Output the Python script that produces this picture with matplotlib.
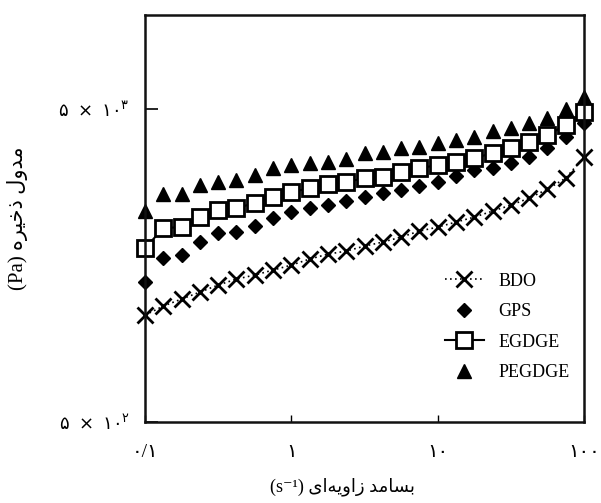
import matplotlib
matplotlib.use("Agg")
import matplotlib.pyplot as plt
from matplotlib.ticker import FixedLocator, FixedFormatter, NullLocator

plt.rcParams["font.family"] = ["Liberation Serif", "DejaVu Sans"]
plt.rcParams["mathtext.fontset"] = "custom"
plt.rcParams["mathtext.rm"] = "DejaVu Sans"

# angular frequency (s^-1), 8 points per decade
freq = [0.1, 0.1334, 0.1778, 0.2371, 0.3162, 0.4217, 0.5623, 0.7499,
        1.0, 1.334, 1.778, 2.371, 3.162, 4.217, 5.623, 7.499,
        10.0, 13.34, 17.78, 23.71, 31.62, 42.17, 56.23, 74.99, 100.0]

# storage modulus (Pa)
bdo = [1098, 1174, 1236, 1301, 1370, 1432, 1475, 1530, 1587, 1659, 1720, 1759,
       1825, 1880, 1950, 2038, 2099, 2178, 2259, 2361, 2467, 2597, 2775, 3010, 3514]
gps = [1401, 1671, 1708, 1880, 2009, 2023, 2114, 2242, 2344, 2414, 2467, 2542,
       2617, 2695, 2755, 2838, 2922, 3054, 3192, 3239, 3361, 3514, 3753, 4069, 4511]
egdge = [1798, 2084, 2099, 2259, 2379, 2414, 2505, 2617, 2715, 2796, 2880, 2922,
         3010, 3032, 3146, 3239, 3311, 3386, 3486, 3618, 3753, 3922, 4130, 4444, 4891]
pegdge = [2361, 2675, 2675, 2858, 2922, 2965, 3077, 3239, 3311, 3361, 3386, 3461,
          3618, 3645, 3753, 3781, 3894, 3981, 4069, 4253, 4347, 4511, 4680, 5000, 5461]

x_ticks = [0.1, 1, 10, 100]
x_tick_labels = ["\u06f0/\u06f1", "\u06f1", "\u06f1\u06f0", "\u06f1\u06f0\u06f0"]
y_ticks = [500, 5000]
y_tick_labels = ["$\\mathrm{\u06f5\\ \\times\\ \u06f1\u06f0^{\u06f2}}$",
                 "$\\mathrm{\u06f5\\ \\times\\ \u06f1\u06f0^{\u06f3}}$"]

# Persian labels in visual order with presentation forms (no shaping in matplotlib)
ylabel = "(Pa) " + "\ufee9\ufeae\ufbff\ufea7\ufeab" + " " + "\ufedd\ufeed\ufeaa\ufee3"
xlabel = "(s\u207b\u00b9) " + "\ufbfc\ufe8d\ufeea\ufbfe\ufeed\ufe8d\ufeaf" + " " + "\ufeaa\ufee3\ufe8e\ufeb4\ufe91"

fig = plt.figure(figsize=(6.01, 5.03), dpi=100)
ax = fig.add_axes([0.2413, 0.161, 0.7304, 0.8092])

ax.plot(freq, bdo, color="black", marker="x", markersize=11, markeredgewidth=2,
        linestyle=(0, (1, 2)), linewidth=1.2, label="BDO", clip_on=False)
ax.plot(freq, gps, color="black", marker="D", markersize=7.5, linestyle="none",
        label="GPS", clip_on=False)
ax.plot(freq, egdge, color="black", marker="s", markersize=11, markeredgewidth=2,
        markerfacecolor="white", linewidth=1.5, label="EGDGE", clip_on=False)
ax.plot(freq, pegdge, color="black", marker="^", markersize=10, linestyle="none",
        label="PEGDGE", clip_on=False)

ax.set_xscale("log")
ax.set_yscale("log")
ax.set_xlim(0.1, 100)
ax.set_ylim(500, 10000)

ax.xaxis.set_major_locator(FixedLocator(x_ticks))
ax.xaxis.set_major_formatter(FixedFormatter(x_tick_labels))
ax.xaxis.set_minor_locator(NullLocator())
ax.yaxis.set_major_locator(FixedLocator(y_ticks))
ax.yaxis.set_major_formatter(FixedFormatter(y_tick_labels))
ax.yaxis.set_minor_locator(NullLocator())
ax.tick_params(axis="x", direction="in", length=5, width=1, labelsize=14, pad=16)
ax.tick_params(axis="y", direction="in", length=9, width=1.2, labelsize=13, pad=11)

for s in ax.spines.values():
    s.set_linewidth(1.8)
    s.set_color("#111111")

ax.set_xlabel(xlabel, fontsize=13, labelpad=10)
ax.xaxis.set_label_coords(0.45, -0.135)
ax.set_ylabel(ylabel, fontsize=15, labelpad=22)

ax.legend(loc="lower right", bbox_to_anchor=(1.005, 0.06), frameon=False,
          fontsize=13, handlelength=2.2, labelspacing=0.75)

fig.savefig("out.png", dpi=100)
